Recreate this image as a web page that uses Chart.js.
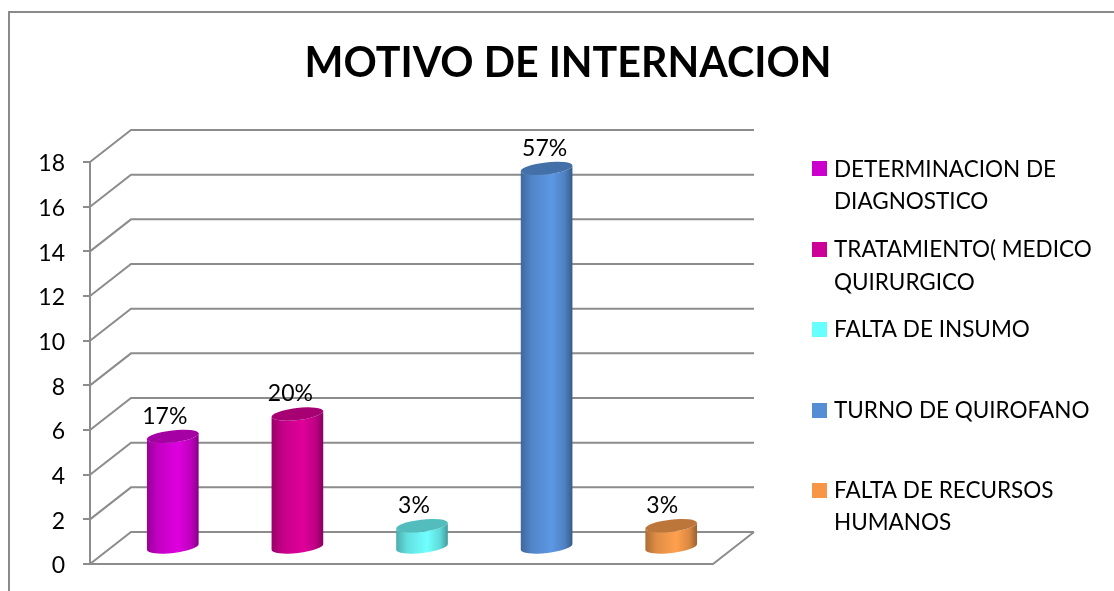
<!DOCTYPE html>
<html><head><meta charset="utf-8">
<style>html,body{margin:0;padding:0;background:#fff;overflow:hidden}canvas{display:block}</style>
<script src="https://cdn.jsdelivr.net/npm/chart.js@4"></script></head>
<body><div style="width:1114px;height:591px"><canvas id="c"></canvas></div>
<script>
const categories = ["DETERMINACION DE DIAGNOSTICO","TRATAMIENTO( MEDICO QUIRURGICO","FALTA DE INSUMO","TURNO DE QUIROFANO","FALTA DE RECURSOS HUMANOS"];
const legendLines = [["DETERMINACION DE","DIAGNOSTICO"],["TRATAMIENTO( MEDICO","QUIRURGICO"],["FALTA DE INSUMO"],["TURNO DE QUIROFANO"],["FALTA DE RECURSOS","HUMANOS"]];
const values = [5,6,1,17,1];
const pctLabels = ["17%","20%","3%","57%","3%"];
const barColors = ["#CC00CC","#CC0099","#66FFFF","#558ED5","#F79646"];
const brightColors = [[222,0,222],[224,0,155],[112,255,255],[92,152,228],[255,160,78]];
const pctDx = [-8,-7,-8,-2,-9];
const legendMarkerY = [161,242,322,403,483];
const legendTextY = [[170,202],[250,283],[330],[411],[491,523]];
const FONT = "Lato, sans-serif", GRID = "#8c8c8c";
const DX = 41, DY = 32, BX = 20.5, BY = 16;

const rgb = (c,f) => `rgb(${c.map(v=>Math.round(v*f)).join(",")})`;

const scene = {
  id: "scene",
  afterLayout(chart){
    if (chart.titleBlock){ chart.titleBlock.left = 22; chart.titleBlock.right = 1114; }
  },
  beforeDraw(chart){
    const {ctx} = chart;
    ctx.save();
    ctx.strokeStyle = "#8a8a8a"; ctx.lineWidth = 2;
    ctx.beginPath(); ctx.moveTo(9,591); ctx.lineTo(9,12); ctx.lineTo(1114,12); ctx.stroke();
    ctx.restore();
  },
  beforeDatasetsDraw(chart){
    const {ctx, chartArea:a, scales:{y}} = chart;
    ctx.save();
    ctx.strokeStyle = GRID; ctx.lineWidth = 2;
    y.ticks.forEach(t=>{
      const p = y.getPixelForValue(t.value);
      ctx.beginPath();
      ctx.moveTo(a.left,p); ctx.lineTo(a.left+DX,p-DY); ctx.lineTo(a.right+DX,p-DY);
      ctx.stroke();
    });
    const p0 = y.getPixelForValue(0);
    ctx.beginPath();
    ctx.moveTo(a.left,p0); ctx.lineTo(a.right,p0); ctx.lineTo(a.right+DX,p0-DY);
    ctx.stroke();
    ctx.restore();
  },
  beforeDatasetDraw(chart){
    const {ctx} = chart, meta = chart.getDatasetMeta(0);
    const A = 26, B = 6, ROT = -6.6*Math.PI/180;
    meta.data.forEach((el,i)=>{
      const cx = el.x+BX, ty = el.y-BY, by = el.base-BY;
      const c = brightColors[i];
      const g = ctx.createLinearGradient(cx-A,0,cx+A,0);
      g.addColorStop(0,rgb(c,0.68)); g.addColorStop(0.22,rgb(c,0.88));
      g.addColorStop(0.6,rgb(c,1)); g.addColorStop(0.85,rgb(c,0.85)); g.addColorStop(1,rgb(c,0.6));
      ctx.save();
      ctx.fillStyle = g;
      ctx.beginPath();
      ctx.ellipse(cx,by,A,B,ROT,0,Math.PI,false);
      ctx.ellipse(cx,ty,A,B,ROT,Math.PI,0,true);
      ctx.closePath(); ctx.fill();
      ctx.fillStyle = rgb(c,0.74);
      ctx.beginPath(); ctx.ellipse(cx,ty,A,B,ROT,0,Math.PI*2); ctx.fill();
      ctx.fillStyle = "#000"; ctx.font = "23px "+FONT;
      ctx.textAlign = "center"; ctx.textBaseline = "middle";
      ctx.fillText(pctLabels[i],cx+pctDx[i],ty-20);
      ctx.restore();
    });
    return false;
  },
  afterDraw(chart){
    const {ctx} = chart;
    ctx.save();
    ctx.font = "22.5px "+FONT; ctx.textBaseline = "middle"; ctx.textAlign = "left";
    legendLines.forEach((lines,i)=>{
      ctx.fillStyle = barColors[i];
      ctx.fillRect(812,legendMarkerY[i],15,15);
      ctx.fillStyle = "#000";
      lines.forEach((l,j)=>ctx.fillText(l,834,legendTextY[i][j]));
    });
    ctx.restore();
  }
};

new Chart(document.getElementById("c"),{
  type:"bar",
  data:{labels:categories,datasets:[{data:values,backgroundColor:barColors,barThickness:52}]},
  plugins:[scene],
  options:{
    responsive:true,maintainAspectRatio:false,animation:false,
    layout:{padding:{left:0,right:401,top:0,bottom:27}},
    plugins:{
      legend:{display:false},tooltip:{enabled:false},
      title:{display:true,text:"MOTIVO DE INTERNACION",color:"#000",
        font:{family:FONT,size:41.2,weight:"bold",lineHeight:1.2},
        padding:{top:39,bottom:73.6}}
    },
    scales:{
      x:{display:false},
      y:{min:0,max:18,
        afterFit(s){s.width=90;s.paddingTop=0;s.paddingBottom=0;},
        grid:{display:true,drawOnChartArea:false,drawTicks:true,tickLength:7,color:GRID,lineWidth:2},
        border:{display:true,color:GRID,width:2},
        ticks:{stepSize:2,color:"#000",padding:18,labelOffset:2,font:{family:FONT,size:23}}}
    }
  }
});
</script></body></html>
